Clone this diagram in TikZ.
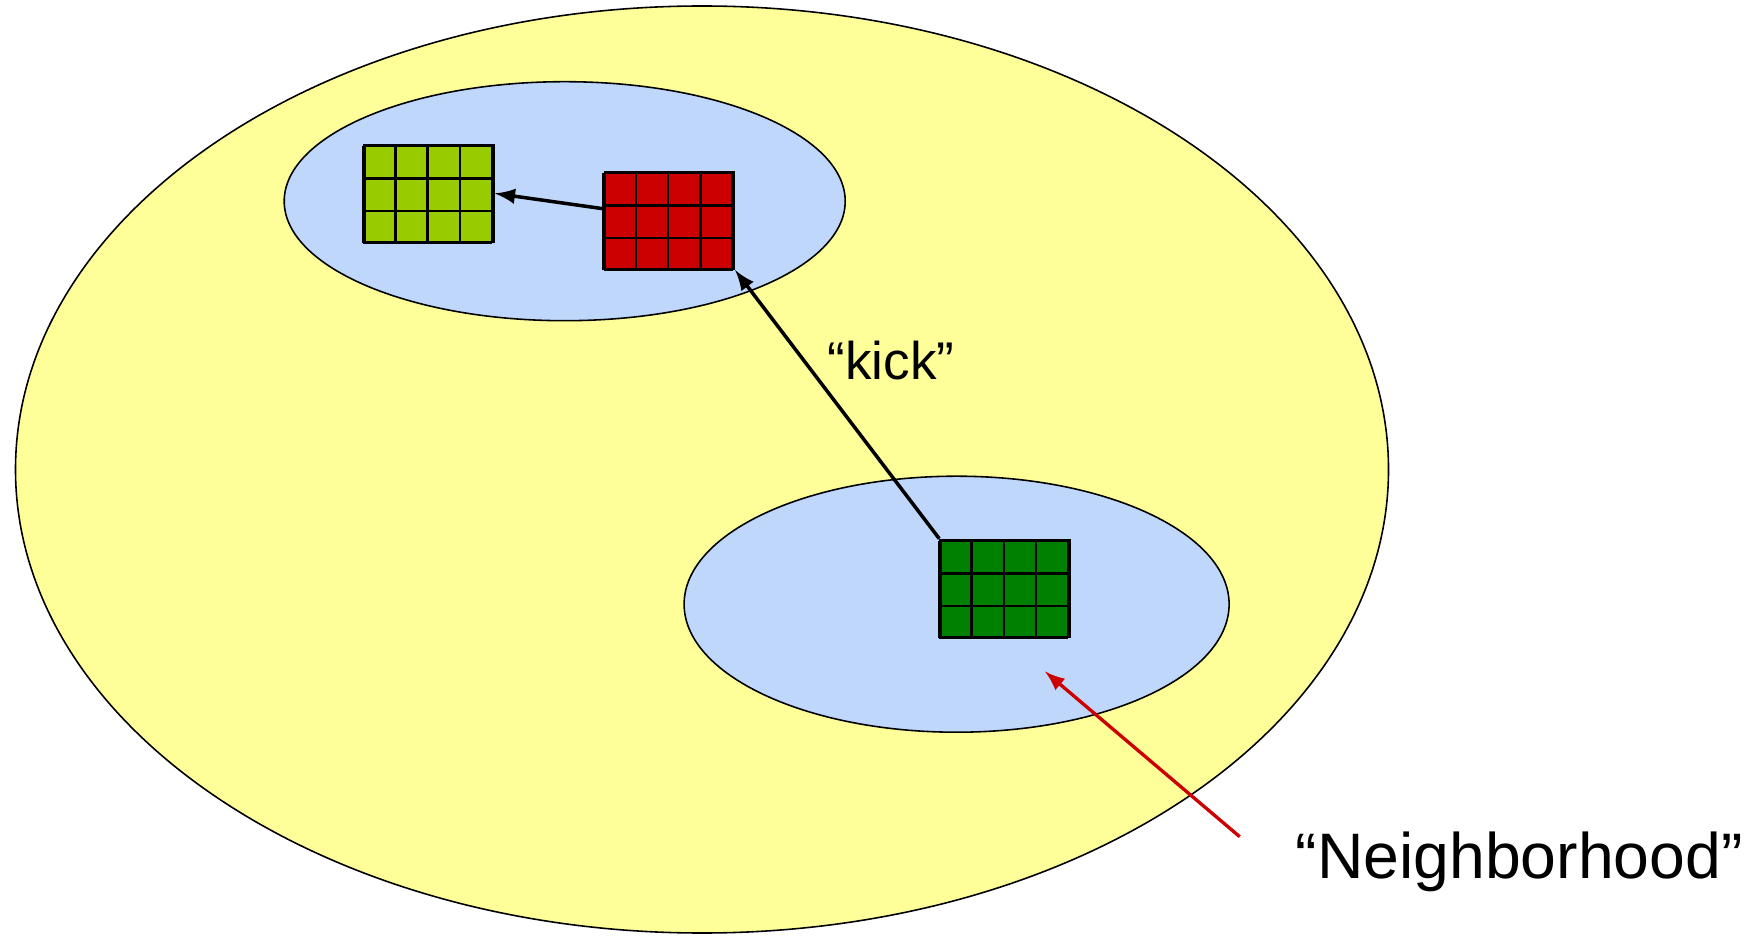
\documentclass[tikz,border=0pt]{standalone}
\usepackage{fontspec}
\setmainfont{Liberation Sans}
\usetikzlibrary{shapes.geometric}

\definecolor{spaceyellow}{HTML}{FFFF99}
\definecolor{hoodblue}{HTML}{C0D7FC}
\definecolor{localgreen}{HTML}{99CC00}
\definecolor{kickred}{HTML}{CC0000}
\definecolor{startgreen}{HTML}{008000}

\tikzset{
		regionshape/.style = {draw, ellipse, line width=0.45pt, inner sep=0pt},
		searchspace/.style = {regionshape, fill=spaceyellow},
		hoodarea/.style    = {regionshape, fill=hoodblue},
		solution/.style    = {draw, rectangle, line width=0.7pt, inner sep=0pt, minimum width=1.29cm, minimum height=0.97cm},
		tagtext/.style     = {inner sep=0pt, anchor=base west}
	}

\begin{document}
\begin{tikzpicture}[>=latex]
		\fill[white] (0,0) rectangle (17.56,-9.36);
		\useasboundingbox (0,0) rectangle (17.56,-9.36);
		
		% search space and the two neighborhoods
		\node[searchspace, minimum width=13.73cm, minimum height=9.27cm] (space) at (7.02,-4.695) {};
		\node[hoodarea, minimum width=5.61cm, minimum height=2.39cm] (hood1) at (5.647,-2.012) {};
		\node[hoodarea, minimum width=5.45cm, minimum height=2.56cm] (hood2) at (9.566,-6.042) {};
		
		% solutions
		\node[solution, fill=localgreen] (local) at (4.289,-1.934) {};
		\node[solution, fill=kickred] (kicked) at (6.694,-2.204) {};
		\node[solution, fill=startgreen] (start) at (10.05,-5.884) {};
		
		\foreach \g in {local,kicked,start}
		\draw[line width=0.7pt, shift={(\g.south west)}, xstep=0.3225, ystep=0.32333] (0,0) grid (1.29,0.97);
		
		% moves
		\draw[->, line width=1pt] (kicked.170) -- (local.east);
		\draw[->, line width=1pt] (start.north west) -- (kicked.south east);
		
		\node[tagtext, font=\fontsize{15.1}{18}\selectfont] (kick) at (8.27,-3.80) {“kick”};
		\node[tagtext, font=\fontsize{18.3}{22}\selectfont] (hoodlabel) at (12.95,-8.78) {“Neighborhood”};
		
		\coordinate (tail) at (12.397,-8.367);
		\coordinate (tip) at (10.45,-6.715);
		\draw[->, kickred, line width=0.95pt] (tail) -- (tip);
		
	\end{tikzpicture}
\end{document}
